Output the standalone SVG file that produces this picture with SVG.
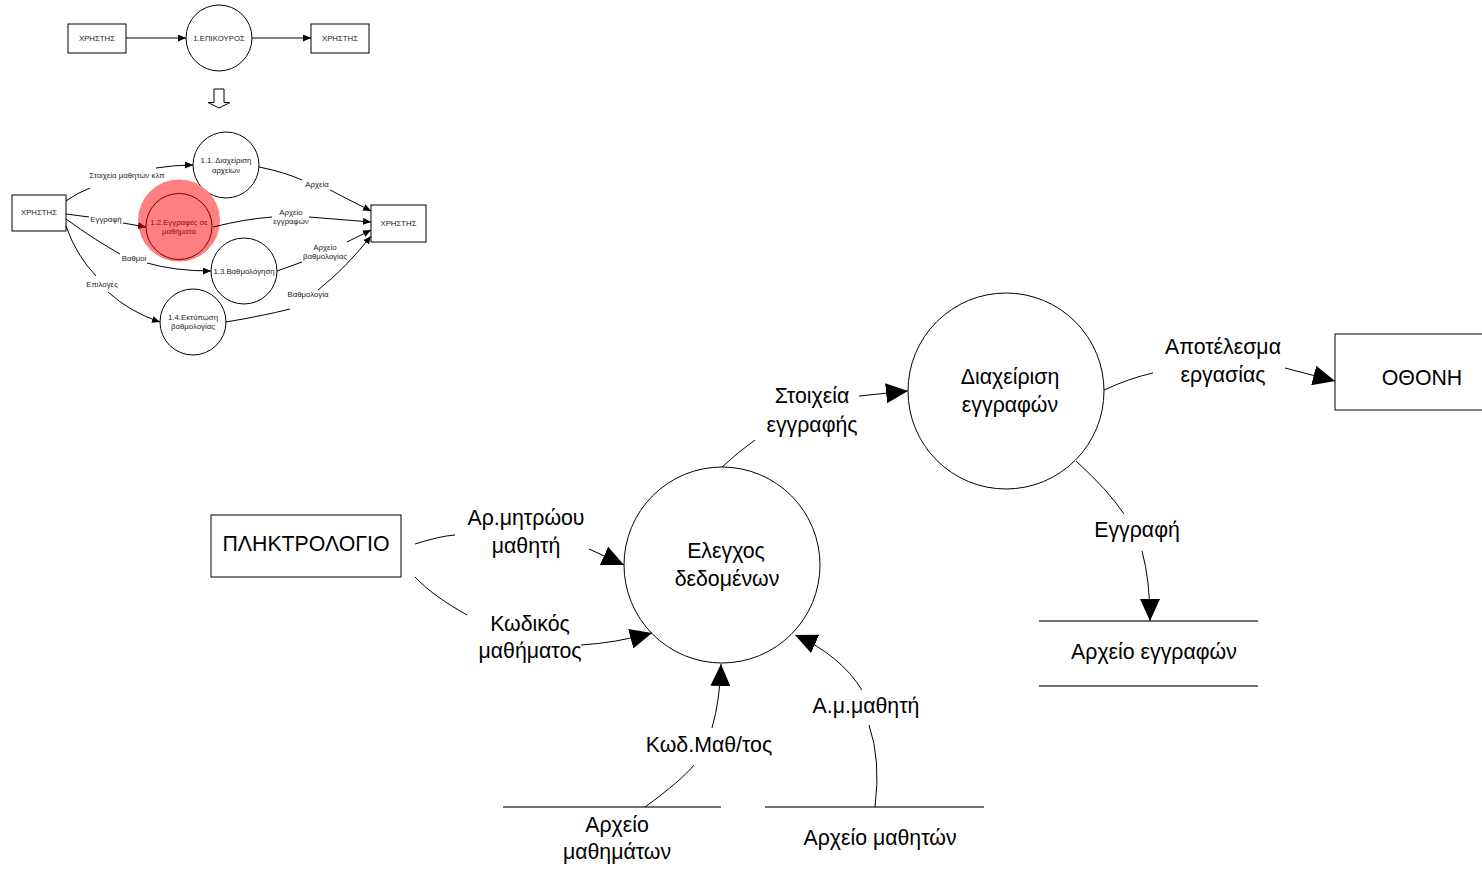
<svg xmlns="http://www.w3.org/2000/svg" width="1482" height="870" viewBox="0 0 1482 870">
  <style>
    text { font-family: "Liberation Sans", Arial, sans-serif; text-anchor: middle; dominant-baseline: central; fill: #000; }
    .s { font-size: 7.8px; fill: #222; }
    .m { font-size: 21.3px; }
    .box { fill: #fff; stroke: #000; stroke-width: 1; }
    .proc { fill: #fff; stroke: #000; stroke-width: 1; }
    .store { stroke: #444; stroke-width: 1.3; fill: none; }
    .flow { fill: none; stroke: #000; stroke-width: 1; }
    .small { marker-end: url(#arrowSmall); }
    .big { marker-end: url(#arrowBig); }
  </style>
  <defs>
    <marker id="arrowSmall" markerUnits="userSpaceOnUse" markerWidth="8" markerHeight="7" refX="8" refY="3.5" orient="auto">
      <path d="M0,0 L8,3.5 L0,7 z" fill="#000"/>
    </marker>
    <marker id="arrowSmallRed" markerUnits="userSpaceOnUse" markerWidth="8" markerHeight="7" refX="8" refY="3.5" orient="auto">
      <path d="M0,0 L8,3.5 L0,7 z" fill="#7a0000"/>
    </marker>
    <marker id="arrowBig" markerUnits="userSpaceOnUse" markerWidth="22" markerHeight="20" refX="22" refY="10" orient="auto">
      <path d="M0,0 L22,10 L0,20 z" fill="#000"/>
    </marker>
  </defs>

  <!-- Context level: user / helper / user -->
  <g id="ctx-user-left">
    <rect class="box" x="68" y="24" width="58" height="29"/>
    <text class="s" x="97" y="38.5">ΧΡΗΣΤΗΣ</text>
  </g>
  <g id="ctx-helper">
    <circle class="proc" cx="219" cy="38" r="33"/>
    <text class="s" x="219" y="38.5">1.ΕΠΙΚΟΥΡΟΣ</text>
  </g>
  <g id="ctx-user-right">
    <rect class="box" x="311" y="24" width="58" height="29"/>
    <text class="s" x="340" y="38.5">ΧΡΗΣΤΗΣ</text>
  </g>

  <!-- Hollow arrow pointing to the decomposition -->
  <g id="expand-arrow">
    <polygon points="214,89 224,89 224,102.5 230,102.5 219,108 208,102.5 214,102.5" fill="#fff" stroke="#000" stroke-width="1"/>
  </g>

  <!-- Level 1 decomposition -->
  <g id="l1-user-left">
    <rect class="box" x="12" y="195" width="54" height="36"/>
    <text class="s" x="39" y="212.5">ΧΡΗΣΤΗΣ</text>
  </g>
  <g id="l1-user-right">
    <rect class="box" x="371" y="205" width="55" height="37"/>
    <text class="s" x="398.5" y="223.5">ΧΡΗΣΤΗΣ</text>
  </g>
  <g id="p1-1">
    <circle class="proc" cx="226" cy="165" r="33"/>
    <text class="s" x="226" y="160.5">1.1. Διαχείριση</text>
    <text class="s" x="226" y="170.5">αρχείων</text>
  </g>
  <g id="p1-2">
    <circle cx="179" cy="220.5" r="41" fill="#ff8080"/>
    <circle cx="179" cy="226.5" r="33" fill="none" stroke="#7a0000" stroke-width="1"/>
    <text class="s" x="179" y="222.5" style="fill:#8b1010">1.2.Εγγραφές σε</text>
    <text class="s" x="179" y="231.5" style="fill:#8b1010">μαθήματα</text>
  </g>
  <g id="p1-3">
    <circle class="proc" cx="244" cy="271" r="33"/>
    <text class="s" x="244" y="271.5">1.3.Βαθμολόγηση</text>
  </g>
  <g id="p1-4">
    <circle class="proc" cx="193" cy="322" r="33"/>
    <text class="s" x="193" y="317.5">1.4.Εκτύπωση</text>
    <text class="s" x="193" y="326.5">βαθμολογίας</text>
  </g>

  <!-- Main level -->
  <g id="keyboard">
    <rect class="box" x="211" y="515" width="190" height="62"/>
    <text class="m" x="306" y="544">ΠΛΗΚΤΡΟΛΟΓΙΟ</text>
  </g>
  <g id="screen">
    <rect class="box" x="1335" y="334" width="160" height="76"/>
    <text class="m" x="1422" y="378">ΟΘΟΝΗ</text>
  </g>
  <g id="check-data">
    <circle class="proc" cx="722" cy="565" r="98"/>
    <text class="m" x="726" y="551">Ελεγχος</text>
    <text class="m" x="727" y="579">δεδομένων</text>
  </g>
  <g id="manage-enrolments">
    <circle class="proc" cx="1006" cy="391" r="98"/>
    <text class="m" x="1010" y="377">Διαχείριση</text>
    <text class="m" x="1010" y="405">εγγραφών</text>
  </g>
  <g id="store-enrolments">
    <line class="store" x1="1039" y1="621" x2="1258" y2="621"/>
    <line class="store" x1="1039" y1="686" x2="1258" y2="686"/>
    <text class="m" x="1154" y="652">Αρχείο εγγραφών</text>
  </g>
  <g id="store-courses">
    <line class="store" x1="503" y1="807" x2="721" y2="807"/>
    <text class="m" x="617" y="825">Αρχείο</text>
    <text class="m" x="617" y="852">μαθημάτων</text>
  </g>
  <g id="store-students">
    <line class="store" x1="765" y1="807" x2="984" y2="807"/>
    <text class="m" x="880" y="838">Αρχείο μαθητών</text>
  </g>

  <!-- Data flows -->
  <g id="connectors">
    <!-- context level -->
    <line class="flow small" x1="126" y1="38" x2="186" y2="38"/>
    <line class="flow small" x1="252" y1="38" x2="311" y2="38"/>

    <!-- level 1 -->
    <path class="flow" d="M66,201 Q77,193 90,188"/>
    <path class="flow small" d="M156,168 Q175,165 193,165"/>
    <text class="s" x="127" y="175.5">Στοιχεία μαθητών κλπ</text>

    <path class="flow" d="M66,214 L89,217"/>
    <path class="flow" d="M123,223 L146,227" style="marker-end:url(#arrowSmallRed)"/>
    <text class="s" x="106" y="219.5">Εγγραφή</text>

    <path class="flow" d="M66,219 Q95,240 120,254"/>
    <path class="flow small" d="M147,263 Q175,271 211,271"/>
    <text class="s" x="134" y="258.5">Βαθμοί</text>

    <path class="flow" d="M66,226 Q76,255 96,276"/>
    <path class="flow small" d="M108,292 Q130,312 160,322"/>
    <text class="s" x="102" y="284.5">Επιλογές</text>

    <path class="flow" d="M259,167 Q284,172 302,180"/>
    <path class="flow small" d="M330,190 L371,211"/>
    <text class="s" x="317" y="184.5">Αρχεία</text>

    <path class="flow" d="M213,227 Q245,219 272,217"/>
    <path class="flow small" d="M309,217 L371,222"/>
    <text class="s" x="291" y="212.5">Αρχείο</text>
    <text class="s" x="291" y="221.5">εγγραφών</text>

    <path class="flow" d="M277,271 L302,262"/>
    <path class="flow small" d="M347,242 L371,230"/>
    <text class="s" x="325" y="247.5">Αρχείο</text>
    <text class="s" x="325" y="256.5">βαθμολογίας</text>

    <path class="flow" d="M226,322 Q262,316 290,309"/>
    <path class="flow small" d="M318,290 Q346,268 371,236"/>
    <text class="s" x="308" y="294.5">Βαθμολογία</text>

    <!-- main level -->
    <path class="flow" d="M415,544 Q440,536 455,535"/>
    <path class="flow big" d="M589,549 L624,565"/>
    <text class="m" x="526" y="518">Αρ.μητρώου</text>
    <text class="m" x="526" y="546">μαθητή</text>

    <path class="flow" d="M415,577 C428,591 446,603 467,615"/>
    <path class="flow big" d="M581,645 Q615,643 652,633"/>
    <text class="m" x="530" y="624">Κωδικός</text>
    <text class="m" x="530" y="651">μαθήματος</text>

    <path class="flow" d="M722,467 Q738,452 755,440"/>
    <path class="flow big" d="M859,396 L908,391"/>
    <text class="m" x="812" y="396">Στοιχεία</text>
    <text class="m" x="812" y="425">εγγραφής</text>

    <path class="flow" d="M1104,390 Q1130,378 1153,373"/>
    <path class="flow big" d="M1285,368 L1335,381"/>
    <text class="m" x="1223" y="347">Αποτέλεσμα</text>
    <text class="m" x="1223" y="375">εργασίας</text>

    <path class="flow" d="M1076,461 Q1108,490 1124,514"/>
    <path class="flow big" d="M1142,551 Q1150,580 1150,621"/>
    <text class="m" x="1137" y="530">Εγγραφή</text>

    <path class="flow" d="M645,807 Q682,780 694,765"/>
    <path class="flow big" d="M712,728 Q720,700 721,664"/>
    <text class="m" x="709" y="745">Κωδ.Μαθ/τος</text>

    <path class="flow" d="M875,807 Q881,760 869,725"/>
    <path class="flow big" d="M862,690 Q840,655 795,635"/>
    <text class="m" x="866" y="706">Α.μ.μαθητή</text>
  </g>
</svg>
